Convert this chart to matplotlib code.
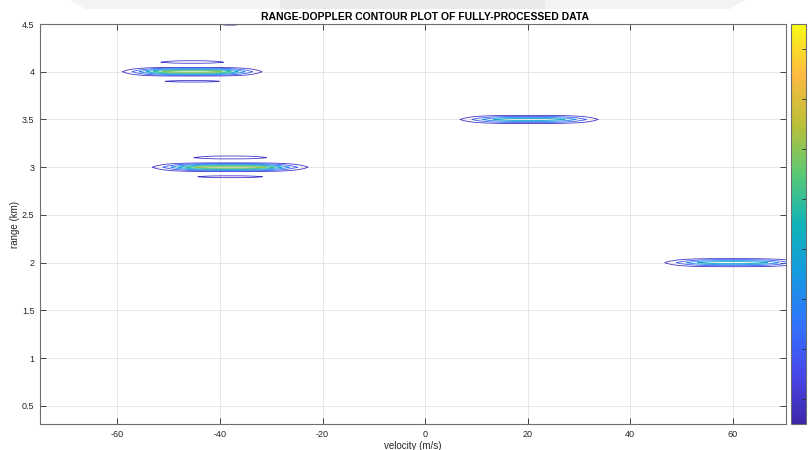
import numpy as np
import matplotlib
matplotlib.use('Agg')
import matplotlib.pyplot as plt
from matplotlib.colors import LinearSegmentedColormap, Normalize
from matplotlib.patches import Polygon, Rectangle

# ---- data ----
target_velocity = [-45.4, -38.0, 20.3, 60.0, -38.0]   # m/s
target_range = [4.00, 3.00, 3.50, 2.00, 4.50]         # km
target_amplitude = [0.70, 0.72, 0.50, 0.50, 0.13]
target_vel_spread = [10.9, 12.1, 11.5, 11.3, 3.0]     # m/s
velocity_shape_power = 3
range_bin = 0.05                                       # km
range_bin_offsets = [-4, -3, -2, -1, 0, 1, 2, 3, 4]
range_bin_gain = [0.02, 0.05, 0.16, 0.05, 1.0, 0.05, 0.17, 0.08, 0.02]
contour_levels = [0.1, 0.2, 0.3, 0.4, 0.5, 0.6]
x_ticks = [-60, -40, -20, 0, 20, 40, 60]
y_ticks = [0.5, 1, 1.5, 2, 2.5, 3, 3.5, 4, 4.5]
y_tick_labels = ['0.5', '1', '1.5', '2', '2.5', '3', '3.5', '4', '4.5']
x_limits = (-75.1, 70.4)
y_limits = (0.31, 4.5)

# measurement grid
velocity_axis = np.linspace(x_limits[0], x_limits[1], 600)
range_axis = 0.25 + range_bin * np.arange(91)
V, R = np.meshgrid(velocity_axis, range_axis)
gain_lookup = dict(zip(range_bin_offsets, range_bin_gain))
Z = np.zeros_like(V)
for v0, r0, a, sv in zip(target_velocity, target_range, target_amplitude, target_vel_spread):
    offs = np.rint((range_axis - r0) / range_bin).astype(int)
    g = np.array([gain_lookup.get(o, 0.0) for o in offs])
    Z += a * np.exp(-np.abs((V - v0) / sv) ** velocity_shape_power) * g[:, None]

parula = LinearSegmentedColormap.from_list('parula', [
    (0.000, (0.2422, 0.1504, 0.6603)),
    (0.125, (0.2803, 0.2782, 0.9221)),
    (0.250, (0.1938, 0.4535, 0.9910)),
    (0.375, (0.0803, 0.6050, 0.8811)),
    (0.500, (0.0590, 0.7040, 0.7260)),
    (0.625, (0.3500, 0.7900, 0.4600)),
    (0.750, (0.7300, 0.7500, 0.2200)),
    (0.875, (0.9900, 0.7300, 0.2500)),
    (1.000, (0.9769, 0.9839, 0.0805))])

plt.rcParams['font.family'] = ['Liberation Sans Narrow', 'Liberation Sans', 'DejaVu Sans']
fig = plt.figure(figsize=(8.1, 4.5), dpi=100)

# faint screenshot artefact at top
fig.patches.append(Polygon([[70/810, 1.0], [745/810, 1.0], [730/810, 1-9/450], [85/810, 1-9/450]],
                           closed=True, transform=fig.transFigure, facecolor='#f3f3f3', edgecolor='none', zorder=0))
fig.patches.append(Rectangle((280/810, 1-9/450), 265/810, 9/450, transform=fig.transFigure,
                             facecolor='#e9e9e9', edgecolor='none', zorder=0))

ax = fig.add_axes([40/810, 26/450, 746/810, 400/450])
norm = Normalize(vmin=0.05, vmax=0.85)
cs = ax.contour(V, R, Z, levels=contour_levels, cmap=parula, norm=norm, linewidths=0.6)

ax.set_xlim(*x_limits)
ax.set_ylim(*y_limits)
ax.set_xticks(x_ticks)
ax.set_xticklabels([str(t) for t in x_ticks])
ax.set_yticks(y_ticks)
ax.set_yticklabels(y_tick_labels)
ax.grid(True, color='#e6e6e6', linewidth=0.7)
ax.set_axisbelow(True)
ax.tick_params(direction='in', length=4, width=0.6, labelsize=6.5, colors='#262626',
               top=True, right=True, pad=4)
for s in ax.spines.values():
    s.set_color('#6e6e6e')
    s.set_linewidth(0.8)
ax.set_title('RANGE-DOPPLER CONTOUR PLOT OF FULLY-PROCESSED DATA', fontsize=7.5,
             fontweight='bold', pad=3, x=(425.5 - 40) / 746)
ax.set_xlabel('velocity (m/s)', fontsize=7, color='#262626', labelpad=1.5)
ax.set_ylabel('range (km)', fontsize=7, color='#262626')
ax.yaxis.set_label_coords((20 - 40) / 746, 0.5)

cax = fig.add_axes([791/810, 26/450, 15/810, 400/450])
sm = matplotlib.cm.ScalarMappable(norm=norm, cmap=parula)
cb = fig.colorbar(sm, cax=cax)
cb.outline.set_edgecolor('#6e6e6e')
cb.outline.set_linewidth(0.8)
cax.tick_params(direction='in', length=3, width=0.6, colors='#262626', labelsize=7)
cax.set_yticklabels([])

fig.savefig('out.png', dpi=100)
